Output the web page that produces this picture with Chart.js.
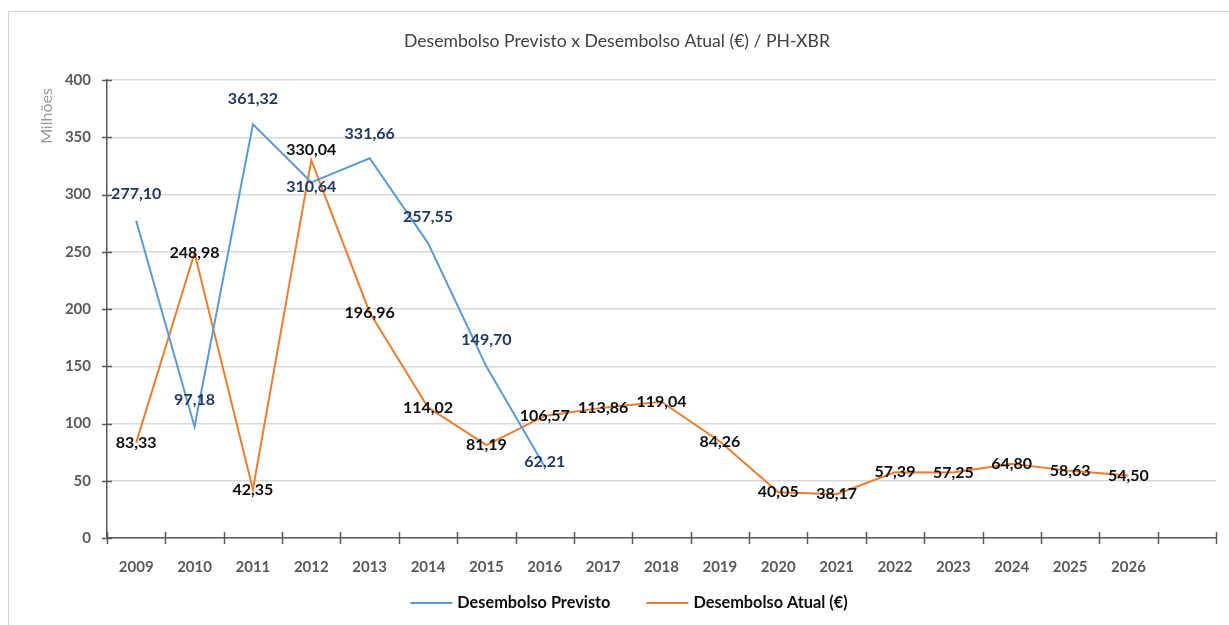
<!DOCTYPE html>
<html lang="pt">
<head>
  <meta charset="UTF-8" />
  <title>Desembolso Previsto x Desembolso Atual</title>
  <script src="https://cdn.jsdelivr.net/npm/chart.js"></script>
  <style>
    body {
      margin: 0;
      background: #ffffff;
    }
    #wrap {
      width: 1229px;
      height: 625px;
    }
  </style>
</head>
<body>
  <div id="wrap"><canvas id="grafico" width="1229" height="625"></canvas></div>
  <script>
    // anos (a última coluna fica vazia)
    const anos = ['2009', '2010', '2011', '2012', '2013', '2014', '2015', '2016', '2017',
                  '2018', '2019', '2020', '2021', '2022', '2023', '2024', '2025', '2026', ''];
    // valores em milhões de euros
    const previsto = [277.10, 97.18, 361.32, 310.64, 331.66, 257.55, 149.70, 62.21,
                      null, null, null, null, null, null, null, null, null, null, null];
    const atual = [83.33, 248.98, 42.35, 330.04, 196.96, 114.02, 81.19, 106.57, 113.86,
                   119.04, 84.26, 40.05, 38.17, 57.39, 57.25, 64.80, 58.63, 54.50, null];
    const yTicks = [0, 50, 100, 150, 200, 250, 300, 350, 400];

    const titulo = 'Desembolso Previsto x Desembolso Atual (€) / PH-XBR';
    const FONTE = 'Lato, "Open Sans", sans-serif';

    // deslocamento vertical dos rótulos em relação ao ponto
    const desvioPrevisto = [-27, -27, -25, 5, -24, -26, -27, -5];
    const desvioAtual = [0, 0, 0, -10, 0, 0, 0, 0, 0, 0, 0, 0, 0, 0, 0, 0, 0, 0];

    function fmt(v) {
      return v.toFixed(2).replace('.', ',');
    }

    const extras = {
      id: 'extras',
      beforeDraw(chart) {
        const ctx = chart.ctx;
        ctx.save();
        ctx.fillStyle = '#ffffff';
        ctx.fillRect(0, 0, chart.width, chart.height);
        // moldura
        ctx.strokeStyle = '#d4d4d4';
        ctx.lineWidth = 1;
        ctx.strokeRect(8.5, 11.5, chart.width + 20, chart.height + 20);
        ctx.restore();
      },
      afterDraw(chart) {
        const ctx = chart.ctx;
        const x = chart.scales.x;
        const y = chart.scales.y;
        ctx.save();

        // marcas cruzando os eixos
        ctx.strokeStyle = '#595959';
        ctx.lineWidth = 1.5;
        ctx.beginPath();
        yTicks.forEach(t => {
          const py = Math.round(y.getPixelForValue(t)) + 0.5;
          ctx.moveTo(x.left - 5, py);
          ctx.lineTo(x.left + 5, py);
        });
        for (let i = 0; i <= anos.length; i++) {
          const px = Math.round(x.getPixelForValue(i - 0.5)) + 0.5;
          ctx.moveTo(px, y.bottom - 6);
          ctx.lineTo(px, y.bottom + 6);
        }
        ctx.stroke();

        // rótulos de dados
        ctx.textAlign = 'center';
        ctx.textBaseline = 'middle';
        ctx.font = 'bold 16px ' + FONTE;
        const estilos = [
          { cor: '#1f3864', desvio: desvioPrevisto },
          { cor: '#0d0d0d', desvio: desvioAtual }
        ];
        chart.data.datasets.forEach((ds, d) => {
          const meta = chart.getDatasetMeta(d);
          ctx.fillStyle = estilos[d].cor;
          meta.data.forEach((pt, i) => {
            const v = ds.data[i];
            if (v === null) return;
            ctx.fillText(fmt(v), pt.x, pt.y + (estilos[d].desvio[i] || 0));
          });
        });

        // título
        ctx.fillStyle = '#404040';
        ctx.font = '17.6px ' + FONTE;
        ctx.fillText(titulo, 617, 41);

        // título do eixo y
        ctx.save();
        ctx.translate(47, 116);
        ctx.rotate(-Math.PI / 2);
        ctx.fillStyle = '#999999';
        ctx.font = '16px ' + FONTE;
        ctx.fillText('Milhões', 0, 0);
        ctx.restore();

        // legenda
        ctx.font = 'bold 16.3px ' + FONTE;
        const itens = chart.data.datasets.map(ds => ({
          txt: ds.label, cor: ds.borderColor, w: ctx.measureText(ds.label).width
        }));
        const amostra = 42, folga = 5, entre = 36;
        let total = 0;
        itens.forEach((it, i) => { total += amostra + folga + it.w + (i ? entre : 0); });
        let lx = 629 - total / 2;
        const ly = 603;
        ctx.textAlign = 'left';
        itens.forEach(it => {
          ctx.strokeStyle = it.cor;
          ctx.lineWidth = 2;
          ctx.beginPath();
          ctx.moveTo(lx, ly);
          ctx.lineTo(lx + amostra, ly);
          ctx.stroke();
          ctx.fillStyle = '#0d0d0d';
          ctx.fillText(it.txt, lx + amostra + folga, ly);
          lx += amostra + folga + it.w + entre;
        });

        ctx.restore();
      }
    };

    new Chart(document.getElementById('grafico').getContext('2d'), {
      type: 'line',
      data: {
        labels: anos,
        datasets: [
          {
            label: 'Desembolso Previsto',
            data: previsto,
            borderColor: '#5b9bd5',
            backgroundColor: '#5b9bd5',
            borderWidth: 2,
            pointRadius: 0,
            tension: 0
          },
          {
            label: 'Desembolso Atual (€)',
            data: atual,
            borderColor: '#ed7d31',
            backgroundColor: '#ed7d31',
            borderWidth: 2,
            pointRadius: 0,
            tension: 0
          }
        ]
      },
      options: {
        responsive: false,
        animation: false,
        events: [],
        layout: { padding: { top: 80, right: 13, left: 0, bottom: 0 } },
        plugins: {
          legend: { display: false },
          title: { display: false },
          tooltip: { enabled: false }
        },
        scales: {
          x: {
            offset: true,
            grid: { display: false, offset: true },
            border: { display: true, color: '#595959', width: 1.5 },
            ticks: {
              color: '#595959',
              font: { family: FONTE, size: 15, weight: 'bold' },
              padding: 12,
              maxRotation: 0,
              autoSkip: false
            },
            afterFit(scale) { scale.height = 87; }
          },
          y: {
            min: 0,
            max: 400,
            grid: { color: '#d9d9d9', lineWidth: 1.5, drawTicks: false },
            border: { display: true, color: '#595959', width: 1.5 },
            ticks: {
              stepSize: 50,
              color: '#595959',
              font: { family: FONTE, size: 15, weight: 'bold' },
              padding: 16
            },
            afterFit(scale) { scale.width = 107; }
          }
        }
      },
      plugins: [extras]
    });
  </script>
</body>
</html>
